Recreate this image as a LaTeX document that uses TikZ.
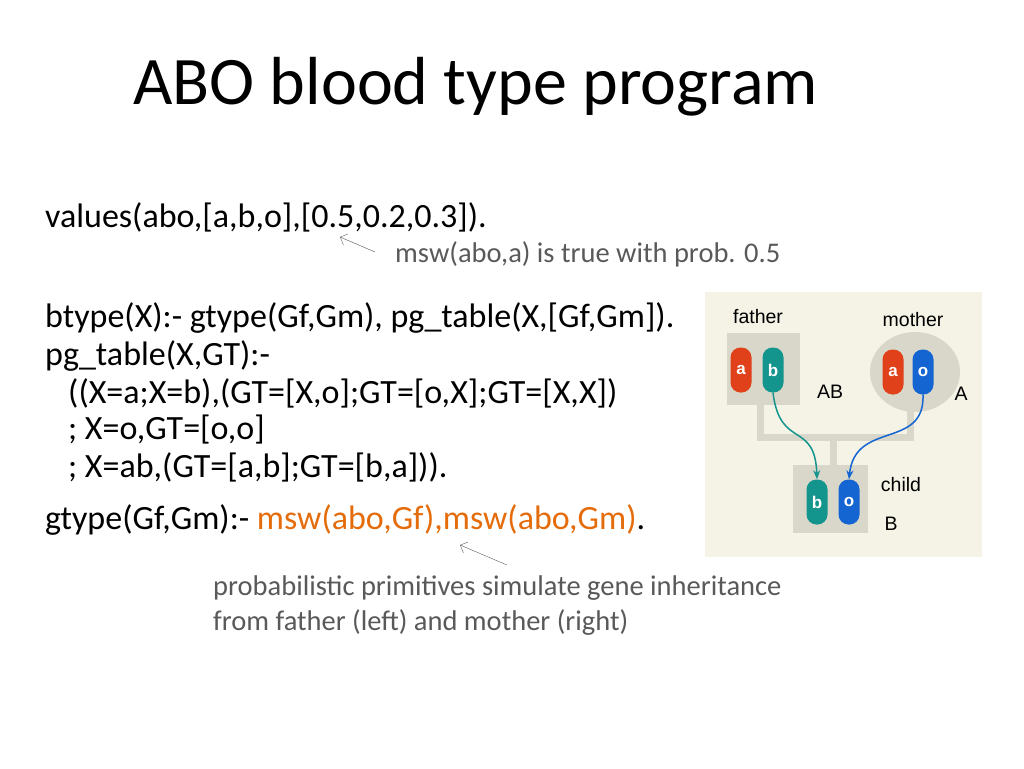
\documentclass[tikz,border=0pt]{standalone}
\usepackage{fontspec}
\setmainfont{Carlito}
\setsansfont{Liberation Sans}
\usetikzlibrary{arrows.meta}
\definecolor{panelbg}{HTML}{F4F3E6}
\definecolor{boxgray}{HTML}{D9D7CA}
\definecolor{redgene}{HTML}{E0401A}
\definecolor{tealgene}{HTML}{13948C}
\definecolor{bluegene}{HTML}{1464D2}
\definecolor{mswcol}{HTML}{E46C0A}
\definecolor{notegray}{HTML}{595959}
\tikzset{
  code/.style={anchor=west, inner sep=0pt, font=\fontsize{34}{38}\selectfont},
  note/.style={anchor=west, inner sep=0pt, text=notegray, font=\fontsize{28.5}{32}\selectfont},
  pill/.style={rounded corners=10pt, minimum width=21pt, minimum height=45pt, inner sep=0pt,
    text=white, font=\sffamily\bfseries\fontsize{17}{18}\selectfont},
  lbl/.style={inner sep=0pt, font=\sffamily\fontsize{19.5}{22}\selectfont},
  link/.style={boxgray, line width=7pt},
  gene/.style={line width=1.5pt, -{Stealth[length=9pt,width=7pt]}}
}
\begin{document}
\begin{tikzpicture}[x=1pt,y=-1pt]
\useasboundingbox (0,0) rectangle (1024,768);
% title and program text
\node[anchor=west, inner sep=0pt, font=\fontsize{68}{72}\selectfont] (title) at (133,87) {ABO blood type program};
\node[code] (values) at (45,217) {values(abo,[a,b,o],[0.5,0.2,0.3]).};
\node[note] (probnote) at (395,254) {msw(abo,a) is true with prob. 0.5};
\node[code] (btype) at (45,318) {btype(X):- gtype(Gf,Gm), pg\_table(X,[Gf,Gm]).};
\node[code] (pgtab) at (45,356) {pg\_table(X,GT):-};
\node[code] (clause1) at (68,393) {((X=a;X=b),(GT=[X,o];GT=[o,X];GT=[X,X])};
\node[code] (clause2) at (68,430) {; X=o,GT=[o,o]};
\node[code] (clause3) at (68,467) {; X=ab,(GT=[a,b];GT=[b,a])).};
\node[code] (gtype) at (45,520) {gtype(Gf,Gm):- \textcolor{mswcol}{msw(abo,Gf),msw(abo,Gm)}.};
\node[note] (primnote1) at (213,588) {probabilistic primitives simulate gene inheritance};
\node[note] (primnote2) at (213,623) {from father (left) and mother (right)};
\coordinate (pa) at (375,252);
\coordinate (pb) at (340,237);
\coordinate (qa) at (507,565);
\coordinate (qb) at (460,545);
\draw[notegray, -{Straight Barb[length=6pt]}] (pa) -- (pb);
\draw[notegray, -{Straight Barb[length=6pt]}] (qa) -- (qb);
% inheritance panel
\fill[panelbg] (705,292) rectangle (982,557);
\draw[link] (760,400) |- (910,437) -- (910,405);
\draw[link] (833,437) -- (833,470);
\fill[boxgray] (727,333) rectangle (800,405);
\fill[boxgray] (915,372) ellipse (45pt and 40pt);
\fill[boxgray] (793,465) rectangle (868,533);
\node[pill, fill=redgene] (fa) at (741,370) {a};
\node[pill, fill=tealgene] (fb) at (773,370) {b};
\node[pill, fill=redgene] (ma) at (893,372) {a};
\node[pill, fill=bluegene] (mo) at (923,372) {o};
\node[pill, fill=tealgene] (cb) at (817,502) {b};
\node[pill, fill=bluegene] (co) at (849,502) {o};
\node[lbl] (father) at (758,317) {father};
\node[lbl] (mother) at (913,320) {mother};
\node[lbl] (ab) at (830,392) {AB};
\node[lbl] (ma-type) at (961,394) {A};
\node[lbl] (child) at (901,485) {child};
\node[lbl] (btyp) at (891,524) {B};
\draw[gene, tealgene] (fb.south) .. controls (780,450) and (815,420) .. (cb.north);
\draw[gene, bluegene] (mo.south) .. controls (925,450) and (855,420) .. (co.north);
\end{tikzpicture}
\end{document}
